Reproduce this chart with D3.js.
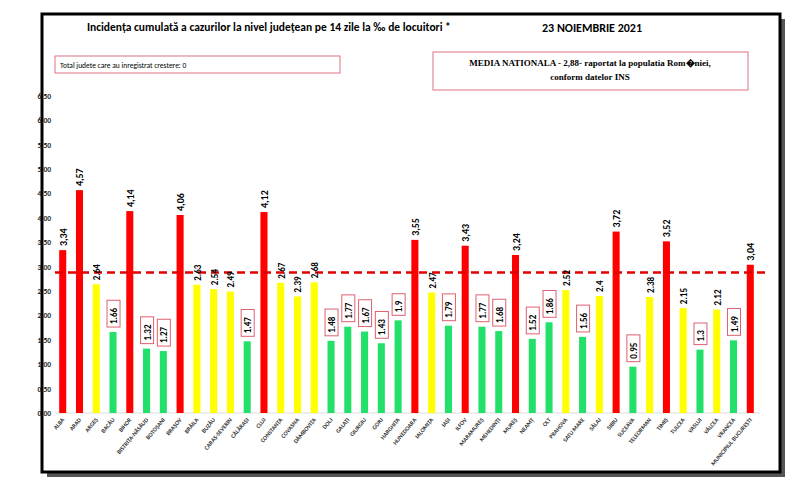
<!DOCTYPE html>
<html><head><meta charset="utf-8">
<script src="https://cdn.jsdelivr.net/npm/d3@7"></script>
<style>body{margin:0;background:#fff;font-family:Calibri,Carlito,"Liberation Sans",sans-serif}</style>
</head><body><svg id="c" width="800" height="489"></svg>
<script>
const counties = ["ALBA","ARAD","ARGEȘ","BACĂU","BIHOR","BISTRIȚA-NĂSĂUD","BOTOȘANI","BRAȘOV","BRĂILA","BUZĂU","CARAȘ-SEVERIN","CĂLĂRAȘI","CLUJ","CONSTANȚA","COVASNA","DÂMBOVIȚA","DOLJ","GALAȚI","GIURGIU","GORJ","HARGHITA","HUNEDOARA","IALOMIȚA","IAȘI","ILFOV","MARAMUREȘ","MEHEDINȚI","MUREȘ","NEAMȚ","OLT","PRAHOVA","SATU MARE","SĂLAJ","SIBIU","SUCEAVA","TELEORMAN","TIMIȘ","TULCEA","VASLUI","VÂLCEA","VRANCEA","MUNICIPIUL BUCUREȘTI"];
const values = [3.34,4.57,2.64,1.66,4.14,1.32,1.27,4.06,2.63,2.54,2.49,1.47,4.12,2.67,2.39,2.68,1.48,1.77,1.67,1.43,1.9,3.55,2.47,1.79,3.43,1.77,1.68,3.24,1.52,1.86,2.52,1.56,2.4,3.72,0.95,2.38,3.52,2.15,1.3,2.12,1.49,3.04];
const national = 2.88;
const yTicks = d3.range(0, 6.51, 0.5);

const svg = d3.select("#c");
// frame with shadow
svg.append("rect").attr("x",47).attr("y",19).attr("width",738).attr("height",458).attr("fill","#555");
svg.append("rect").attr("x",42).attr("y",14).attr("width",738).attr("height",458).attr("fill","#fff").attr("stroke","#000").attr("stroke-width",3);

const x = d3.scaleBand().domain(counties).range([55,758]).paddingInner(0.58).paddingOuter(0.25);
const y = d3.scaleLinear().domain([0,6.5]).range([413,96]);
const color = v => v >= 3 ? "#ff0000" : v >= 2 ? "#ffff00" : "#22e06a";

const ya = svg.append("g").attr("transform","translate(55,0)")
  .call(d3.axisLeft(y).tickValues(yTicks).tickFormat(d3.format(".2f")).tickSize(0).tickPadding(4));
ya.select(".domain").remove();
ya.selectAll("text").attr("font-size",7.5).attr("font-weight","bold").attr("fill","#222").attr("font-family","Calibri,Carlito,sans-serif");
svg.append("line").attr("x1",55).attr("x2",760).attr("y1",y(0)).attr("y2",y(0)).attr("stroke","#ddd");

svg.selectAll(".bar").data(values).enter().append("rect")
  .attr("x",(d,i)=>x(counties[i])).attr("y",d=>y(d)).attr("width",x.bandwidth()).attr("height",d=>y(0)-y(d))
  .attr("fill",color);

svg.append("line").attr("x1",55).attr("x2",765).attr("y1",y(national)).attr("y2",y(national))
  .attr("stroke","#e00000").attr("stroke-width",2.5).attr("stroke-dasharray","8,5");

// value labels
values.forEach((v,i)=>{
  const cx = x(counties[i]) + x.bandwidth()/2;
  const txt = v >= 3 ? d3.format(".2f")(v).replace(".",",") : String(v);
  const g = svg.append("g").attr("transform",`translate(${cx+4},${y(v)-4}) rotate(-90)`);
  if (v < 2) {
    const w = txt.length*5.2+6;
    g.attr("transform",`translate(${cx+4},${y(v)-5}) rotate(-90)`);
    g.append("rect").attr("x",0).attr("y",-10).attr("width",w).attr("height",13).attr("fill","#fff").attr("stroke","#e06070");
    g.append("text").attr("x",3).attr("y",0).attr("font-size",9).attr("font-weight","bold").text(txt);
  } else {
    g.append("text").attr("x",0).attr("y",0).attr("font-size",v>=3?10:9).attr("font-weight","bold").text(txt);
  }
});

// category labels
svg.selectAll(".cl").data(counties).enter().append("text")
  .attr("transform",d=>`translate(${x(d)+x.bandwidth()/2+2},${420}) rotate(-50)`)
  .attr("text-anchor","end").attr("font-size",6).attr("font-weight","bold").attr("fill","#333").text(d=>d);

// titles
svg.append("text").attr("x",87).attr("y",31).attr("font-size",11.5).attr("font-weight","bold")
  .text("Incidența cumulată a cazurilor la nivel județean pe 14 zile la ‰ de locuitori *");
svg.append("text").attr("x",542).attr("y",32).attr("font-size",12).attr("font-weight","bold").text("23 NOIEMBRIE 2021");
svg.append("rect").attr("x",55).attr("y",56).attr("width",285).attr("height",17).attr("fill","#fff").attr("stroke","#e07080");
svg.append("text").attr("x",60).attr("y",68).attr("font-size",7.5).text("Total judete care au inregistrat crestere: 0");
svg.append("rect").attr("x",433).attr("y",52).attr("width",315).attr("height",38).attr("fill","#fff").attr("stroke","#e07080");
svg.append("text").attr("x",590).attr("y",66).attr("text-anchor","middle").attr("font-size",9).attr("font-weight","bold")
  .attr("font-family","Liberation Serif,serif").text("MEDIA NATIONALA - 2,88-  raportat la populatia Rom\uFFFDniei,");
svg.append("text").attr("x",590).attr("y",80).attr("text-anchor","middle").attr("font-size",9).attr("font-weight","bold")
  .attr("font-family","Liberation Serif,serif").text("conform datelor INS");
</script></body></html>
